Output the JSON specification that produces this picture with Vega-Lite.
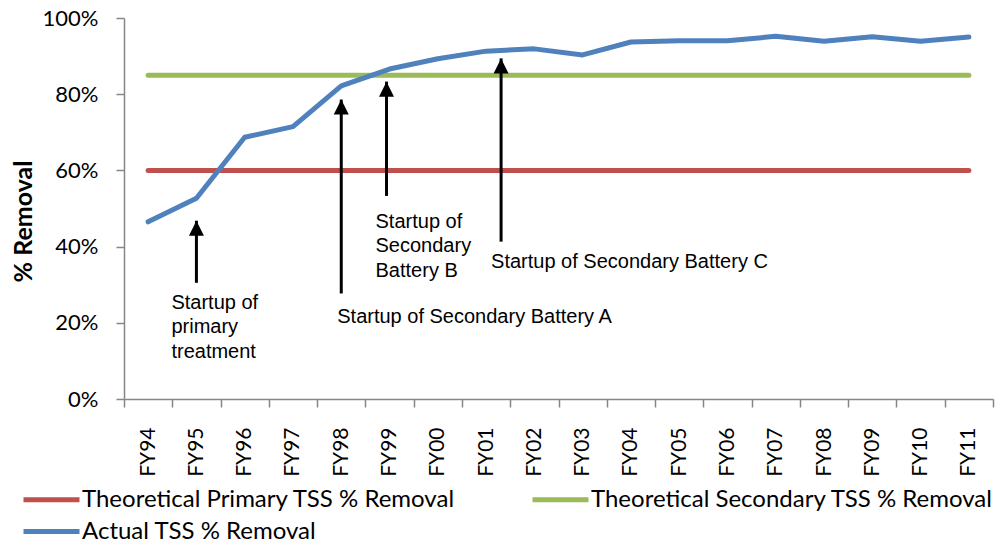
{
  "$schema": "https://vega.github.io/schema/vega-lite/v6.json",
  "width": 869,
  "height": 381,
  "autosize": {"type": "none"},
  "padding": {"left": 124, "top": 18, "right": 12, "bottom": 146},
  "background": "white",
  "config": {"view": {"stroke": null}, "font": "Lato"},
  "datasets": {
    "series": [
      {"year": "FY94", "series": "Theoretical Primary TSS % Removal", "value": 60},
      {"year": "FY95", "series": "Theoretical Primary TSS % Removal", "value": 60},
      {"year": "FY96", "series": "Theoretical Primary TSS % Removal", "value": 60},
      {"year": "FY97", "series": "Theoretical Primary TSS % Removal", "value": 60},
      {"year": "FY98", "series": "Theoretical Primary TSS % Removal", "value": 60},
      {"year": "FY99", "series": "Theoretical Primary TSS % Removal", "value": 60},
      {"year": "FY00", "series": "Theoretical Primary TSS % Removal", "value": 60},
      {"year": "FY01", "series": "Theoretical Primary TSS % Removal", "value": 60},
      {"year": "FY02", "series": "Theoretical Primary TSS % Removal", "value": 60},
      {"year": "FY03", "series": "Theoretical Primary TSS % Removal", "value": 60},
      {"year": "FY04", "series": "Theoretical Primary TSS % Removal", "value": 60},
      {"year": "FY05", "series": "Theoretical Primary TSS % Removal", "value": 60},
      {"year": "FY06", "series": "Theoretical Primary TSS % Removal", "value": 60},
      {"year": "FY07", "series": "Theoretical Primary TSS % Removal", "value": 60},
      {"year": "FY08", "series": "Theoretical Primary TSS % Removal", "value": 60},
      {"year": "FY09", "series": "Theoretical Primary TSS % Removal", "value": 60},
      {"year": "FY10", "series": "Theoretical Primary TSS % Removal", "value": 60},
      {"year": "FY11", "series": "Theoretical Primary TSS % Removal", "value": 60},
      {"year": "FY94", "series": "Theoretical Secondary TSS % Removal", "value": 85},
      {"year": "FY95", "series": "Theoretical Secondary TSS % Removal", "value": 85},
      {"year": "FY96", "series": "Theoretical Secondary TSS % Removal", "value": 85},
      {"year": "FY97", "series": "Theoretical Secondary TSS % Removal", "value": 85},
      {"year": "FY98", "series": "Theoretical Secondary TSS % Removal", "value": 85},
      {"year": "FY99", "series": "Theoretical Secondary TSS % Removal", "value": 85},
      {"year": "FY00", "series": "Theoretical Secondary TSS % Removal", "value": 85},
      {"year": "FY01", "series": "Theoretical Secondary TSS % Removal", "value": 85},
      {"year": "FY02", "series": "Theoretical Secondary TSS % Removal", "value": 85},
      {"year": "FY03", "series": "Theoretical Secondary TSS % Removal", "value": 85},
      {"year": "FY04", "series": "Theoretical Secondary TSS % Removal", "value": 85},
      {"year": "FY05", "series": "Theoretical Secondary TSS % Removal", "value": 85},
      {"year": "FY06", "series": "Theoretical Secondary TSS % Removal", "value": 85},
      {"year": "FY07", "series": "Theoretical Secondary TSS % Removal", "value": 85},
      {"year": "FY08", "series": "Theoretical Secondary TSS % Removal", "value": 85},
      {"year": "FY09", "series": "Theoretical Secondary TSS % Removal", "value": 85},
      {"year": "FY10", "series": "Theoretical Secondary TSS % Removal", "value": 85},
      {"year": "FY11", "series": "Theoretical Secondary TSS % Removal", "value": 85},
      {"year": "FY94", "series": "Actual TSS % Removal", "value": 46.5},
      {"year": "FY95", "series": "Actual TSS % Removal", "value": 52.7},
      {"year": "FY96", "series": "Actual TSS % Removal", "value": 68.7},
      {"year": "FY97", "series": "Actual TSS % Removal", "value": 71.5},
      {"year": "FY98", "series": "Actual TSS % Removal", "value": 82.2},
      {"year": "FY99", "series": "Actual TSS % Removal", "value": 86.6},
      {"year": "FY00", "series": "Actual TSS % Removal", "value": 89.3},
      {"year": "FY01", "series": "Actual TSS % Removal", "value": 91.3},
      {"year": "FY02", "series": "Actual TSS % Removal", "value": 91.9},
      {"year": "FY03", "series": "Actual TSS % Removal", "value": 90.3},
      {"year": "FY04", "series": "Actual TSS % Removal", "value": 93.7},
      {"year": "FY05", "series": "Actual TSS % Removal", "value": 94.0},
      {"year": "FY06", "series": "Actual TSS % Removal", "value": 94.0},
      {"year": "FY07", "series": "Actual TSS % Removal", "value": 95.2},
      {"year": "FY08", "series": "Actual TSS % Removal", "value": 93.9},
      {"year": "FY09", "series": "Actual TSS % Removal", "value": 95.1},
      {"year": "FY10", "series": "Actual TSS % Removal", "value": 93.9},
      {"year": "FY11", "series": "Actual TSS % Removal", "value": 95.0}
    ],
    "arrows": [
      {"id": "primary", "year": "FY95", "tip": 46.8, "base": 30.5},
      {"id": "A", "year": "FY98", "tip": 78.6, "base": 27.7},
      {"id": "B", "year": "FY99", "tip": 83.3, "base": 53.3},
      {"id": "C", "year": "FY01", "tip": 89.4, "base": 41.3}
    ],
    "notes": [
      {"id": "primary", "year": "FY95", "pos": 25.2, "label": ["Startup of", "primary", "treatment"]},
      {"id": "A", "year": "FY98", "pos": 21.4, "label": "Startup of Secondary Battery A"},
      {"id": "B", "year": "FY99", "pos": 46.5, "label": ["Startup of", "Secondary", "Battery B"]},
      {"id": "C", "year": "FY01", "pos": 36.0, "label": "Startup of Secondary Battery C"}
    ]
  },
  "encoding": {
    "x": {
      "field": "year",
      "type": "nominal",
      "scale": {
        "domain": ["FY94", "FY95", "FY96", "FY97", "FY98", "FY99", "FY00", "FY01", "FY02", "FY03", "FY04", "FY05", "FY06", "FY07", "FY08", "FY09", "FY10", "FY11"],
        "paddingInner": 0,
        "paddingOuter": 0
      },
      "axis": {
        "title": null,
        "labelAngle": -90,
        "labelAlign": "right",
        "labelBaseline": "middle",
        "tickBand": "extent",
        "tickSize": 8,
        "labelPadding": 20,
        "domainColor": "#868686",
        "tickColor": "#868686",
        "domainWidth": 1.5,
        "tickWidth": 1.5,
        "grid": false,
        "labelFont": "Lato",
        "labelFontSize": 21,
        "labelColor": "black"
      }
    }
  },
  "layer": [
    {
      "data": {"name": "series"},
      "mark": {"type": "line", "strokeWidth": 5, "strokeCap": "round", "strokeJoin": "round"},
      "encoding": {
        "y": {
          "field": "value",
          "type": "quantitative",
          "title": "% Removal",
          "scale": {"domain": [0, 100], "nice": false},
          "axis": {
            "values": [0, 20, 40, 60, 80, 100],
            "labelExpr": "datum.value + '%'",
            "title": "% Removal",
            "titleFont": "Lato",
            "titleFontWeight": "bold",
            "titleFontSize": 25,
            "titleColor": "black",
            "titleX": -101,
            "titleY": 203,
            "titleAlign": "center",
            "titleBaseline": "middle",
            "grid": false,
            "domainColor": "#868686",
            "tickColor": "#868686",
            "domainWidth": 1.5,
            "tickWidth": 1.5,
            "tickSize": 8,
            "labelPadding": 18,
            "labelFont": "Lato",
            "labelFontSize": 22,
            "labelColor": "black"
          }
        },
        "color": {
          "field": "series",
          "type": "nominal",
          "scale": {
            "domain": ["Theoretical Primary TSS % Removal", "Theoretical Secondary TSS % Removal", "Actual TSS % Removal"],
            "range": ["#C0504D", "#9BBB59", "#4F81BD"]
          },
          "legend": {
            "orient": "none",
            "legendX": -89,
            "legendY": 465,
            "direction": "horizontal",
            "columns": 2,
            "title": null,
            "symbolType": "M-2,0L2,0",
            "symbolStrokeWidth": 5,
            "symbolStrokeCap": "round",
            "symbolSize": 784,
            "labelFont": "Lato",
            "labelFontSize": 24,
            "labelColor": "black",
            "labelOffset": 14,
            "columnPadding": 66,
            "rowPadding": 3,
            "labelLimit": 0
          }
        },
        "order": {"value": null}
      }
    },
    {
      "data": {"name": "arrows"},
      "transform": [{"filter": "datum.id == 'primary' || datum.id == 'A'"}],
      "mark": {"type": "rule", "strokeWidth": 3, "color": "black"},
      "encoding": {
        "y": {"field": "tip", "type": "quantitative", "title": "% Removal"},
        "y2": {"field": "base"}
      }
    },
    {
      "data": {"name": "arrows"},
      "transform": [{"filter": "datum.id == 'B'"}],
      "mark": {"type": "rule", "strokeWidth": 3, "color": "black", "xOffset": -3},
      "encoding": {
        "y": {"field": "tip", "type": "quantitative", "title": "% Removal"},
        "y2": {"field": "base"}
      }
    },
    {
      "data": {"name": "arrows"},
      "transform": [{"filter": "datum.id == 'C'"}],
      "mark": {"type": "rule", "strokeWidth": 3, "color": "black", "xOffset": 15},
      "encoding": {
        "y": {"field": "tip", "type": "quantitative", "title": "% Removal"},
        "y2": {"field": "base"}
      }
    },
    {
      "data": {"name": "arrows"},
      "transform": [{"filter": "datum.id == 'primary' || datum.id == 'A'"}],
      "mark": {"type": "point", "shape": "M0,0L-1,2L1,2Z", "size": 225, "filled": true, "color": "black", "opacity": 1, "strokeWidth": 0},
      "encoding": {
        "y": {"field": "tip", "type": "quantitative", "title": "% Removal"}
      }
    },
    {
      "data": {"name": "arrows"},
      "transform": [{"filter": "datum.id == 'B'"}],
      "mark": {"type": "point", "shape": "M0,0L-1,2L1,2Z", "size": 225, "filled": true, "color": "black", "opacity": 1, "strokeWidth": 0, "xOffset": -3},
      "encoding": {
        "y": {"field": "tip", "type": "quantitative", "title": "% Removal"}
      }
    },
    {
      "data": {"name": "arrows"},
      "transform": [{"filter": "datum.id == 'C'"}],
      "mark": {"type": "point", "shape": "M0,0L-1,2L1,2Z", "size": 225, "filled": true, "color": "black", "opacity": 1, "strokeWidth": 0, "xOffset": 15},
      "encoding": {
        "y": {"field": "tip", "type": "quantitative", "title": "% Removal"}
      }
    },
    {
      "data": {"name": "notes"},
      "transform": [{"filter": "datum.id == 'primary'"}],
      "mark": {"type": "text", "align": "left", "baseline": "middle", "font": "Liberation Sans", "fontSize": 20, "lineHeight": 24.5, "dx": -25, "color": "black"},
      "encoding": {
        "y": {"field": "pos", "type": "quantitative", "title": "% Removal"},
        "text": {"field": "label"}
      }
    },
    {
      "data": {"name": "notes"},
      "transform": [{"filter": "datum.id == 'A'"}],
      "mark": {"type": "text", "align": "left", "baseline": "middle", "font": "Liberation Sans", "fontSize": 20, "lineHeight": 24.5, "dx": -4, "color": "black"},
      "encoding": {
        "y": {"field": "pos", "type": "quantitative", "title": "% Removal"},
        "text": {"field": "label"}
      }
    },
    {
      "data": {"name": "notes"},
      "transform": [{"filter": "datum.id == 'B'"}],
      "mark": {"type": "text", "align": "left", "baseline": "middle", "font": "Liberation Sans", "fontSize": 20, "lineHeight": 24.5, "dx": -14, "color": "black"},
      "encoding": {
        "y": {"field": "pos", "type": "quantitative", "title": "% Removal"},
        "text": {"field": "label"}
      }
    },
    {
      "data": {"name": "notes"},
      "transform": [{"filter": "datum.id == 'C'"}],
      "mark": {"type": "text", "align": "left", "baseline": "middle", "font": "Liberation Sans", "fontSize": 20, "lineHeight": 24.5, "dx": 5, "color": "black"},
      "encoding": {
        "y": {"field": "pos", "type": "quantitative", "title": "% Removal"},
        "text": {"field": "label"}
      }
    }
  ]
}
